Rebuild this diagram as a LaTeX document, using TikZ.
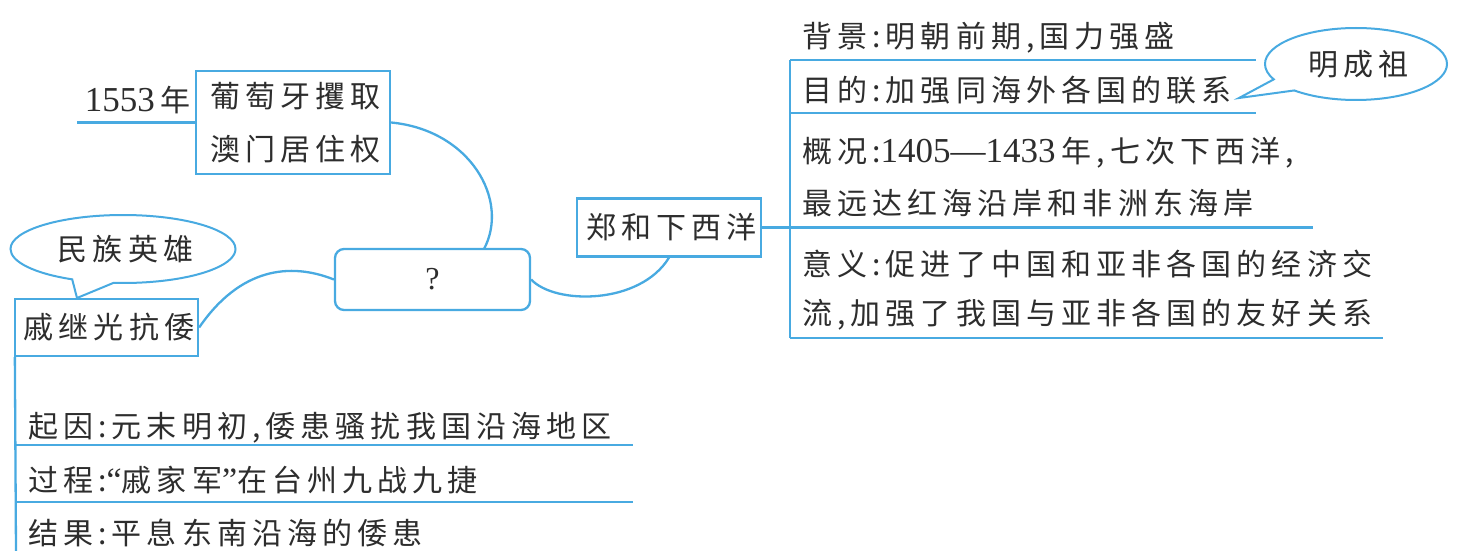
\documentclass[tikz,border=0pt]{standalone}
\usepackage{fontspec}
\setmainfont{Noto Sans CJK SC}[LetterSpace=17]
\newfontfamily\num{Liberation Serif}[LetterSpace=0]
\usetikzlibrary{shapes.callouts,shapes.geometric}
\definecolor{lb}{RGB}{72,170,225}
\definecolor{tx}{RGB}{45,45,45}
\begin{document}
\begin{tikzpicture}[x=1pt,y=-1pt,
  ln/.style={draw=lb,line width=2.3pt},
  bx/.style={draw=lb,line width=2.3pt,rectangle,inner sep=0pt,align=center,text=tx,font=\fontsize{30}{53}\selectfont},
  tt/.style={anchor=west,inner sep=0pt,text=tx,font=\fontsize{30}{34}\selectfont},
  cb/.style={draw=lb,line width=2pt,fill=white,ellipse callout,inner sep=0pt,text=tx,font=\fontsize{30}{34}\selectfont,callout pointer arc=22}]
\useasboundingbox[fill=white] (0,0) rectangle (1473,551);
% left top
\node[bx,minimum width=194pt,minimum height=103pt] (pt) at (293,122.5) {\hspace*{5pt}葡萄牙攫取\\\hspace*{5pt}澳门居住权};
\node[anchor=east,inner sep=0pt,text=tx,font=\fontsize{30}{34}\selectfont] (yr) at (191,100) {{\num\fontsize{35}{34}\selectfont 1553\,}年};
\coordinate (yl) at (77,122.5);
\draw[ln] (yl) -- (pt.west);
% center
\node[bx,rounded corners=9pt,minimum width=195pt,minimum height=61pt] (q) at (432.5,279.5) {\num\fontsize{32}{34}\selectfont ?};
\node[bx,minimum width=184pt,minimum height=58pt] (zh) at (669,227.5) {\hspace*{5pt}郑和下西洋};
\node[bx,minimum width=183pt,minimum height=57pt] (qi) at (106.5,327.5) {\hspace*{5pt}戚继光抗倭};
% callouts
\node[cb,minimum width=225pt,minimum height=68pt,callout absolute pointer={(77,298)}] (mz) at (123,249) {\hspace*{5pt}民族英雄};
\node[cb,minimum width=182pt,minimum height=72pt,callout absolute pointer={(1239,98)}] (mc) at (1356,64) {\hspace*{5pt}明成祖};
% connectors
\draw[ln] (pt.east) .. controls (470,130) and (510,200) .. (484,249);
\draw[ln] (qi.east) .. controls (240,268) and (290,262) .. (q.west);
\draw[ln] (q.east) .. controls (555,305) and (640,305) .. (zh.south);
% right branch
\coordinate (r0) at (790,60);
\coordinate (r0e) at (1256,60);
\coordinate (r1) at (790,113);
\coordinate (r1e) at (1256,113);
\coordinate (r2e) at (1313,227.5);
\coordinate (r3) at (790,338);
\coordinate (r3e) at (1383,338);
\draw[ln] (r0) -- (r3);
\draw[ln] (r0) -- (r0e);
\draw[ln] (r1) -- (r1e);
\draw[ln] (zh.east) -- (r2e);
\draw[ln] (r3) -- (r3e);
\node[tt] (bg) at (802,38) {背景:明朝前期,国力强盛};
\node[tt] (md) at (802,90) {目的:加强同海外各国的联系};
\node[tt] (gk1) at (802,153) {概况:{\num\fontsize{35}{34}\selectfont 1405—1433\,}年,七次下西洋,};
\node[tt] (gk2) at (802,203) {最远达红海沿岸和非洲东海岸};
\node[tt] (yy1) at (802,264) {意义:促进了中国和亚非各国的经济交};
\node[tt] (yy2) at (802,315) {流,加强了我国与亚非各国的友好关系};
% left bottom branch
\coordinate (l0) at (16,551);
\coordinate (l1) at (16,445);
\coordinate (l1e) at (633,445);
\coordinate (l2) at (16,502);
\coordinate (l2e) at (633,502);
\draw[ln] (qi.south west) ++(1,0) -- (l0);
\draw[ln] (l1) -- (l1e);
\draw[ln] (l2) -- (l2e);
\node[tt] (qy) at (28,428) {起因:元末明初,倭患骚扰我国沿海地区};
\node[tt] (gc) at (28,480) {过程:{\num\fontsize{34}{34}\selectfont “}戚家军{\num\fontsize{34}{34}\selectfont ”}在台州九战九捷};
\node[tt] (jg) at (28,533) {结果:平息东南沿海的倭患};
\end{tikzpicture}
\end{document}
